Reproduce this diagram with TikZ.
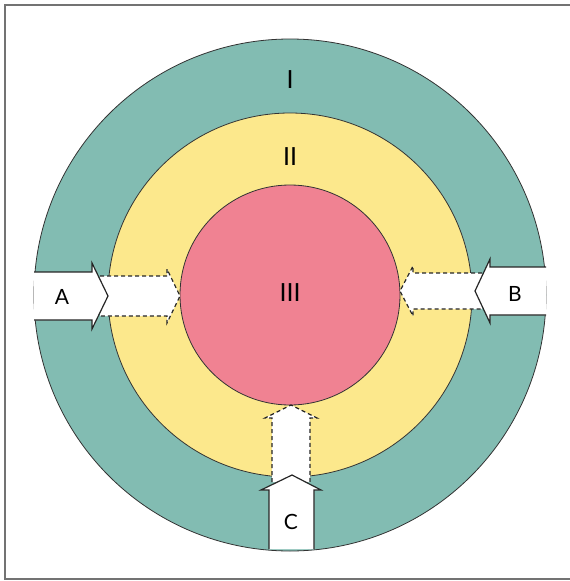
\documentclass[tikz,border=0pt]{standalone}
\usepackage{fontspec}
\setmainfont{Lato}
\definecolor{zoneone}{RGB}{130,188,178}
\definecolor{zonetwo}{RGB}{252,232,140}
\definecolor{zonethree}{RGB}{240,130,146}
\tikzset{
  ring/.style={draw=black!80, line width=0.8pt},
  inarrow/.style={draw=black!85, fill=white, line width=1.2pt, line join=miter},
  dasharrow/.style={draw=black!85, fill=white, line width=1.2pt, dash pattern=on 4pt off 3pt},
  numeral/.style={font=\fontsize{25}{25}\selectfont},
  letter/.style={font=\fontsize{21}{21}\selectfont}
}
\begin{document}
\begin{tikzpicture}[x=1pt, y=-1pt]
    \useasboundingbox (0,0) rectangle (570,581);
    % Frame
    \draw[black!55, line width=1.4pt] (575,5) -- (5,5) -- (5,579) -- (575,579);

    % Zones
    \coordinate (O) at (290,295);
    \fill[zoneone] (O) circle[radius=256];
    \draw[ring] (O) circle[radius=256];
    \fill[zonetwo] (O) circle[radius=182];
    \draw[ring] (O) circle[radius=182];
    \fill[zonethree] (O) circle[radius=110];
    \draw[ring] (O) circle[radius=110];

    % Dashed continuations
    \draw[dasharrow] (100,276) -- (167,276) -- (167,269) -- (180,296) -- (167,323) -- (167,316) -- (100,316);
    \draw[dasharrow] (482,273) -- (413,273) -- (413,266) -- (400,291) -- (413,316) -- (413,309) -- (482,309);
    \draw[dasharrow] (272,482) -- (272,418) -- (265,418) -- (291,405) -- (317,418) -- (310,418) -- (310,482);

    % Entering arrows
    \fill[white] (34,272) -- (92,272) -- (92,263) -- (108,296) -- (92,329) -- (92,320) -- (34,320) -- cycle;
    \draw[inarrow] (34,272) -- (92,272) -- (92,263) -- (108,296) -- (92,329) -- (92,320) -- (34,320);
    \fill[white] (546,267) -- (490,267) -- (490,259) -- (475,291) -- (490,323) -- (490,315) -- (546,315) -- cycle;
    \draw[inarrow] (546,267) -- (490,267) -- (490,259) -- (475,291) -- (490,323) -- (490,315) -- (546,315);
    \fill[white] (269,549) -- (269,490) -- (261,490) -- (292,475) -- (321,490) -- (314,490) -- (314,549) -- cycle;
    \draw[inarrow] (269,549) -- (269,490) -- (261,490) -- (292,475) -- (321,490) -- (314,490) -- (314,549);

    % Labels
    \node[numeral] (one) at (290,80) {I};
    \node[numeral] (two) at (290,157) {II};
    \node[numeral] (three) at (290,293) {III};
    \node[letter] (a) at (62,297) {A};
    \node[letter] (b) at (515,294) {B};
    \node[letter] (c) at (291,522) {C};
\end{tikzpicture}
\end{document}
